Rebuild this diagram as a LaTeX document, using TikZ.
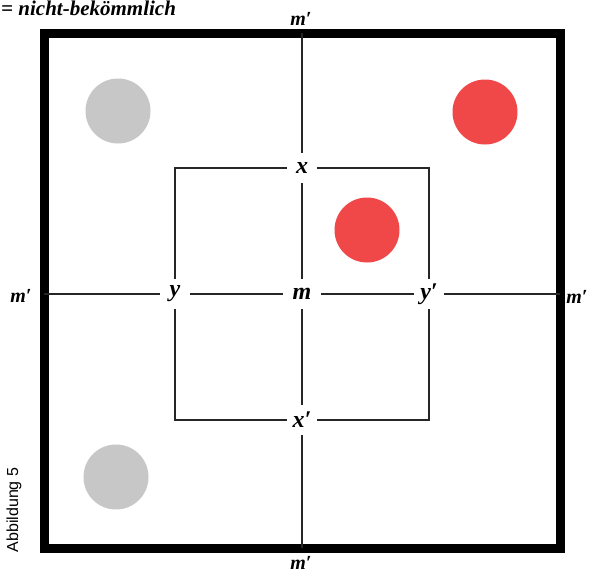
\documentclass[tikz,border=0pt]{standalone}
\usepackage{fontspec}
\setmainfont{Liberation Serif}
\newfontfamily\labsans{Liberation Sans}
\begin{document}
\begin{tikzpicture}[x=1pt,y=-1pt,
  lab/.style={font=\fontsize{24}{26}\selectfont\bfseries\itshape, inner sep=0pt, minimum width=30, minimum height=30},
  edgelab/.style={font=\fontsize{20}{22}\selectfont\bfseries\itshape, inner sep=0pt},
  thin line/.style={line width=1.8, draw=black!85},
  dot/.style={circle, minimum size=65, inner sep=0pt},
  graydot/.style={dot, fill=black!22},
  reddot/.style={dot, fill={rgb,255:red,240;green,72;blue,72}}]
\useasboundingbox[fill=white] (0,0) rectangle (592,573);
% border
\coordinate (tl) at (44,33);
\coordinate (br) at (560,548);
\draw[line width=9] (tl) rectangle (br);
% axis ends
\coordinate (vt) at (302,33);
\coordinate (vb) at (302,548);
\coordinate (hl) at (44,294);
\coordinate (hr) at (560,294);
% inner rectangle corners
\coordinate (r1) at (175,168);
\coordinate (r2) at (429,168);
\coordinate (r3) at (429,420);
\coordinate (r4) at (175,420);
% labels
\node[lab] (x) at (302,168) {x};
\node[lab, minimum width=38] (m) at (302,294) {m};
\node[lab] (y) at (175,294) {y};
\node[lab] (yp) at (429,294) {y′};
\node[lab] (xp) at (302,420) {x′};
\node[edgelab] (mt) at (301,19) {m′};
\node[edgelab] (mb) at (301,563) {m′};
\node[edgelab] (ml) at (21,296) {m′};
\node[edgelab] (mr) at (577,297) {m′};
% connectors
\draw[thin line] (vt) -- (x);
\draw[thin line] (x) -- (m);
\draw[thin line] (m) -- (xp);
\draw[thin line] (xp) -- (vb);
\draw[thin line] (hl) -- (y);
\draw[thin line] (y) -- (m);
\draw[thin line] (m) -- (yp);
\draw[thin line] (yp) -- (hr);
\draw[thin line] (x) -- (r1) -- (y);
\draw[thin line] (y) -- (r4) -- (xp);
\draw[thin line] (xp) -- (r3) -- (yp);
\draw[thin line] (yp) -- (r2) -- (x);
% dots
\node[graydot] (g1) at (118,111) {};
\node[graydot] (g2) at (116,477) {};
\node[reddot] (rd1) at (485,112) {};
\node[reddot] (rd2) at (367,230) {};
% texts
\node[anchor=base west, inner sep=0pt, font=\fontsize{21}{24}\selectfont\bfseries\itshape] (title) at (1,15) {= nicht-bekömmlich};
\node[rotate=90, inner sep=0pt, font=\labsans\fontsize{16}{18}\selectfont] (abb) at (14,510) {Abbildung 5};
\end{tikzpicture}
\end{document}
